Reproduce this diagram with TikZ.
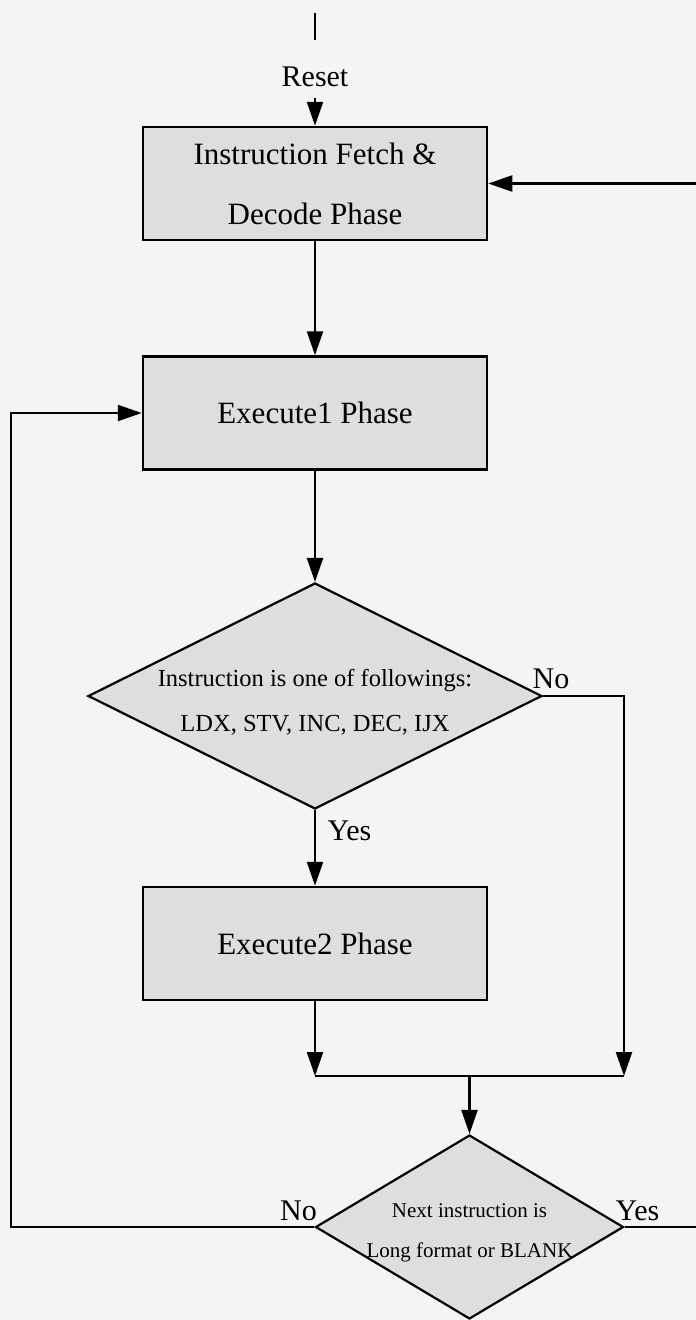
\documentclass[tikz,border=0pt]{standalone}
\usepackage{fontspec}
\setmainfont{Liberation Serif}
\usetikzlibrary{arrows.meta,shapes.geometric}
\definecolor{bggray}{RGB}{244,244,244}
\definecolor{boxgray}{RGB}{222,222,222}
\begin{document}
\begin{tikzpicture}[x=1pt,y=-1pt,
  line width=2.3pt,
  box/.style={draw, fill=boxgray, minimum width=344pt, minimum height=113pt, inner sep=0pt, line width=2.5pt},
  dia/.style={draw, diamond, fill=boxgray, inner sep=0pt, line width=2.2pt},
  arr/.style={-{Triangle[length=24pt,width=16pt]}},
  big/.style={font=\fontsize{31}{60}\selectfont},
  lbl/.style={font=\fontsize{30}{36}\selectfont, inner sep=0pt, anchor=base}
]
\fill[bggray] (0,0) rectangle (696,1320);
\useasboundingbox (0,0) rectangle (696,1320);

% top reset line
\coordinate (t0) at (315,13);
\coordinate (t1) at (315,40);
\draw (t0) -- (t1);
\node[font=\fontsize{30}{36}\selectfont, inner sep=10pt] (reset) at (315,77) {Reset};

% boxes
\node[box, big, align=center] (b1) at (315,183.5) {Instruction Fetch \&\\Decode Phase};
\node[box, big] (b2) at (315,413) {Execute1 Phase};
\node[box, big] (b3) at (315,943.5) {Execute2 Phase};

% diamonds
\node[dia, minimum width=454pt, minimum height=226pt] (d1) at (315,696) {};
\node[font=\fontsize{24.5}{45}\selectfont, align=center, inner sep=0pt] (d1t) at (315,702)
  {Instruction is one of followings:\\LDX, STV, INC, DEC, IJX};
\node[dia, minimum width=308pt, minimum height=184pt] (d2) at (469.5,1227) {};
\node[font=\fontsize{21}{40}\selectfont, align=center, inner sep=0pt] (d2t) at (469.5,1233)
  {Next instruction is\\Long format or BLANK};

% labels
\node[lbl] (no1) at (551,688) {No};
\node[lbl] (yes1) at (349.5,840) {Yes};
\node[lbl] (no2) at (298.5,1220) {No};
\node[lbl] (yes2) at (637.5,1220) {Yes};

% coordinates
\coordinate (r1) at (624,696);
\coordinate (m1) at (315,1076);
\coordinate (m2) at (624,1076);
\coordinate (mm) at (469.5,1076);
\coordinate (l1) at (11,1227);
\coordinate (l2) at (11,413);
\coordinate (q1) at (698,1227);
\coordinate (q2) at (698,183.5);

% connectors
\draw[arr] (reset.south) -- (b1.north);
\draw[arr] (b1.south) -- (b2.north);
\draw[arr] (b2.south) -- (d1.north);
\draw[arr] (d1.south) -- (b3.north);
\draw[arr] (b3.south) -- (m1);
\draw[arr] (d1.east) -- (r1) -- (m2);
\draw (m1) -- (m2);
\draw[arr] (mm) -- (d2.north);
\draw[arr] (d2.west) -- (l1) -- (l2) -- (b2.west);
\draw[arr] (d2.east) -- (q1) -- (q2) -- (b1.east);
\end{tikzpicture}
\end{document}
